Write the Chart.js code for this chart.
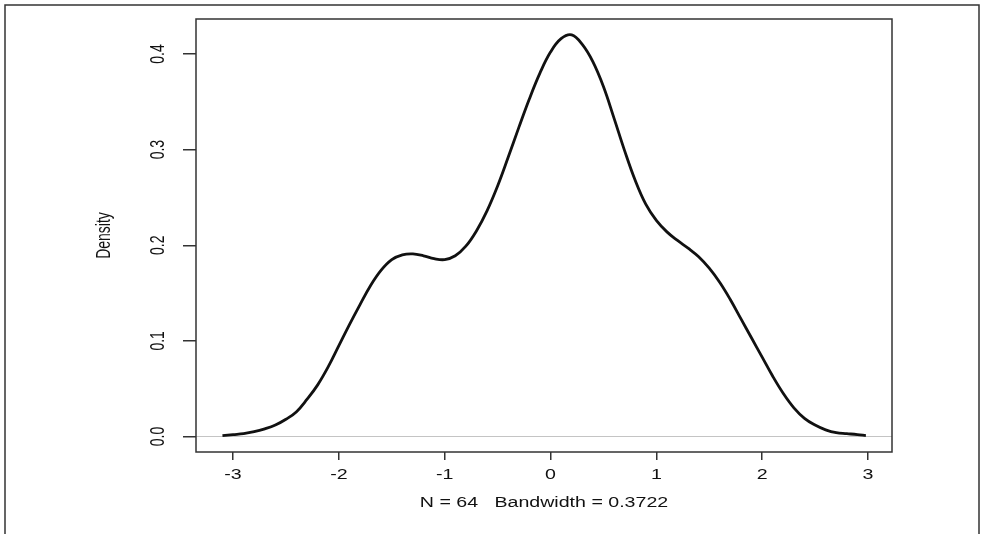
<!DOCTYPE html>
<html>
<head>
<meta charset="utf-8">
<script src="https://cdn.jsdelivr.net/npm/chart.js@4.4.0/dist/chart.umd.min.js"></script>
<style>
    html, body { margin: 0; padding: 0; background: #fff; }
</style>
</head>
<body>
<canvas id="chart" width="987" height="534"></canvas>
<script>
let xValues = [
    -3.10, -3.0, -2.9, -2.8, -2.7, -2.6, -2.5, -2.4, -2.3, -2.2, -2.1,
    -2.0, -1.9, -1.8, -1.7, -1.6, -1.5, -1.4, -1.3, -1.2, -1.1,
    -1.0, -0.9, -0.8, -0.7, -0.6, -0.5, -0.4, -0.3, -0.2, -0.1,
    0.0, 0.1, 0.2, 0.3, 0.4, 0.5, 0.6, 0.7, 0.8, 0.9,
    1.0, 1.1, 1.2, 1.3, 1.4, 1.5, 1.6, 1.7, 1.8, 1.9,
    2.0, 2.1, 2.2, 2.3, 2.4, 2.5, 2.6, 2.7, 2.8, 2.9, 2.98
];
let densityValues = [
    0.001, 0.002, 0.003, 0.005, 0.008, 0.012, 0.018, 0.026, 0.039, 0.054, 0.073,
    0.095, 0.117, 0.138, 0.158, 0.174, 0.185, 0.190, 0.191, 0.189, 0.186,
    0.185, 0.189, 0.199, 0.215, 0.236, 0.262, 0.292, 0.323, 0.353, 0.380,
    0.402, 0.416, 0.420, 0.410, 0.392, 0.366, 0.333, 0.299, 0.268, 0.243,
    0.226, 0.214, 0.205, 0.197, 0.188, 0.176, 0.161, 0.143, 0.123, 0.103,
    0.083, 0.063, 0.045, 0.030, 0.019, 0.012, 0.007, 0.004, 0.003, 0.002, 0.001
];
let xTicks = [-3, -2, -1, 0, 1, 2, 3];
let xTickLabels = ['-3', '-2', '-1', '0', '1', '2', '3'];
let yTicks = [0, 0.1, 0.2, 0.3, 0.4];
let yTickLabels = ['0.0', '0.1', '0.2', '0.3', '0.4'];
let xTitle = 'N = 64   Bandwidth = 0.3722';
let yTitle = 'Density';

const stretch = 1.4; // the reference picture is stretched sideways
const textFont = '14px "Liberation Sans", Arial, sans-serif';

function putText(ctx, text, x, y, rotated) {
    ctx.save();
    ctx.translate(x, y);
    ctx.scale(stretch, 1);
    if (rotated) ctx.rotate(-Math.PI / 2);
    ctx.fillText(text, 0, 0);
    ctx.restore();
}

// frame, box, zero line and the axis texts
const rStyle = {
    id: 'rStyle',
    beforeDatasetsDraw(chart) {
        const ctx = chart.ctx;
        const area = chart.chartArea;
        const y0 = chart.scales.y.getPixelForValue(0);
        ctx.save();
        ctx.strokeStyle = '#c4c4c4';
        ctx.lineWidth = 1;
        ctx.beginPath();
        ctx.moveTo(area.left, y0);
        ctx.lineTo(area.right, y0);
        ctx.stroke();
        ctx.restore();
    },
    afterDraw(chart) {
        const ctx = chart.ctx;
        const area = chart.chartArea;
        const xs = chart.scales.x;
        const ys = chart.scales.y;
        ctx.save();
        ctx.strokeStyle = '#333';
        ctx.lineWidth = 1.5;
        ctx.beginPath();
        ctx.moveTo(5, 534);
        ctx.lineTo(5, 5);
        ctx.lineTo(979, 5);
        ctx.lineTo(979, 534);
        ctx.stroke();
        ctx.strokeRect(area.left, area.top, area.right - area.left, area.bottom - area.top);

        ctx.fillStyle = '#111';
        ctx.font = textFont;
        ctx.textAlign = 'center';
        ctx.textBaseline = 'middle';
        xTicks.forEach((v, i) => putText(ctx, xTickLabels[i], xs.getPixelForValue(v), 475, false));
        yTicks.forEach((v, i) => putText(ctx, yTickLabels[i], 159, ys.getPixelForValue(v), true));
        putText(ctx, xTitle, (area.left + area.right) / 2, 503, false);
        putText(ctx, yTitle, 105, (area.top + area.bottom) / 2, true);
        ctx.restore();
    }
};

new Chart(document.getElementById('chart'), {
    type: 'line',
    data: {
        datasets: [{
            data: xValues.map((x, i) => ({ x: x, y: densityValues[i] })),
            borderColor: '#111',
            borderWidth: 2.8,
            pointRadius: 0,
            tension: 0.4,
            fill: false
        }]
    },
    options: {
        responsive: false,
        animation: false,
        layout: { padding: { top: 19, right: 95, left: 0, bottom: 0 } },
        plugins: {
            legend: { display: false },
            tooltip: { enabled: false }
        },
        scales: {
            x: {
                type: 'linear',
                min: -3.35,
                max: 3.227,
                afterBuildTicks: s => { s.ticks = xTicks.map(v => ({ value: v })); },
                afterFit: s => { s.height = 82; },
                ticks: { display: false },
                grid: { drawOnChartArea: false, drawTicks: true, tickLength: 8, color: '#333', lineWidth: 1.5 },
                border: { display: false }
            },
            y: {
                type: 'linear',
                min: -0.0162,
                max: 0.4366,
                afterBuildTicks: s => { s.ticks = yTicks.map(v => ({ value: v })); },
                afterFit: s => { s.width = 196; },
                ticks: { display: false },
                grid: { drawOnChartArea: false, drawTicks: true, tickLength: 13, color: '#333', lineWidth: 1.5 },
                border: { display: false }
            }
        }
    },
    plugins: [rStyle]
});
</script>
</body>
</html>
